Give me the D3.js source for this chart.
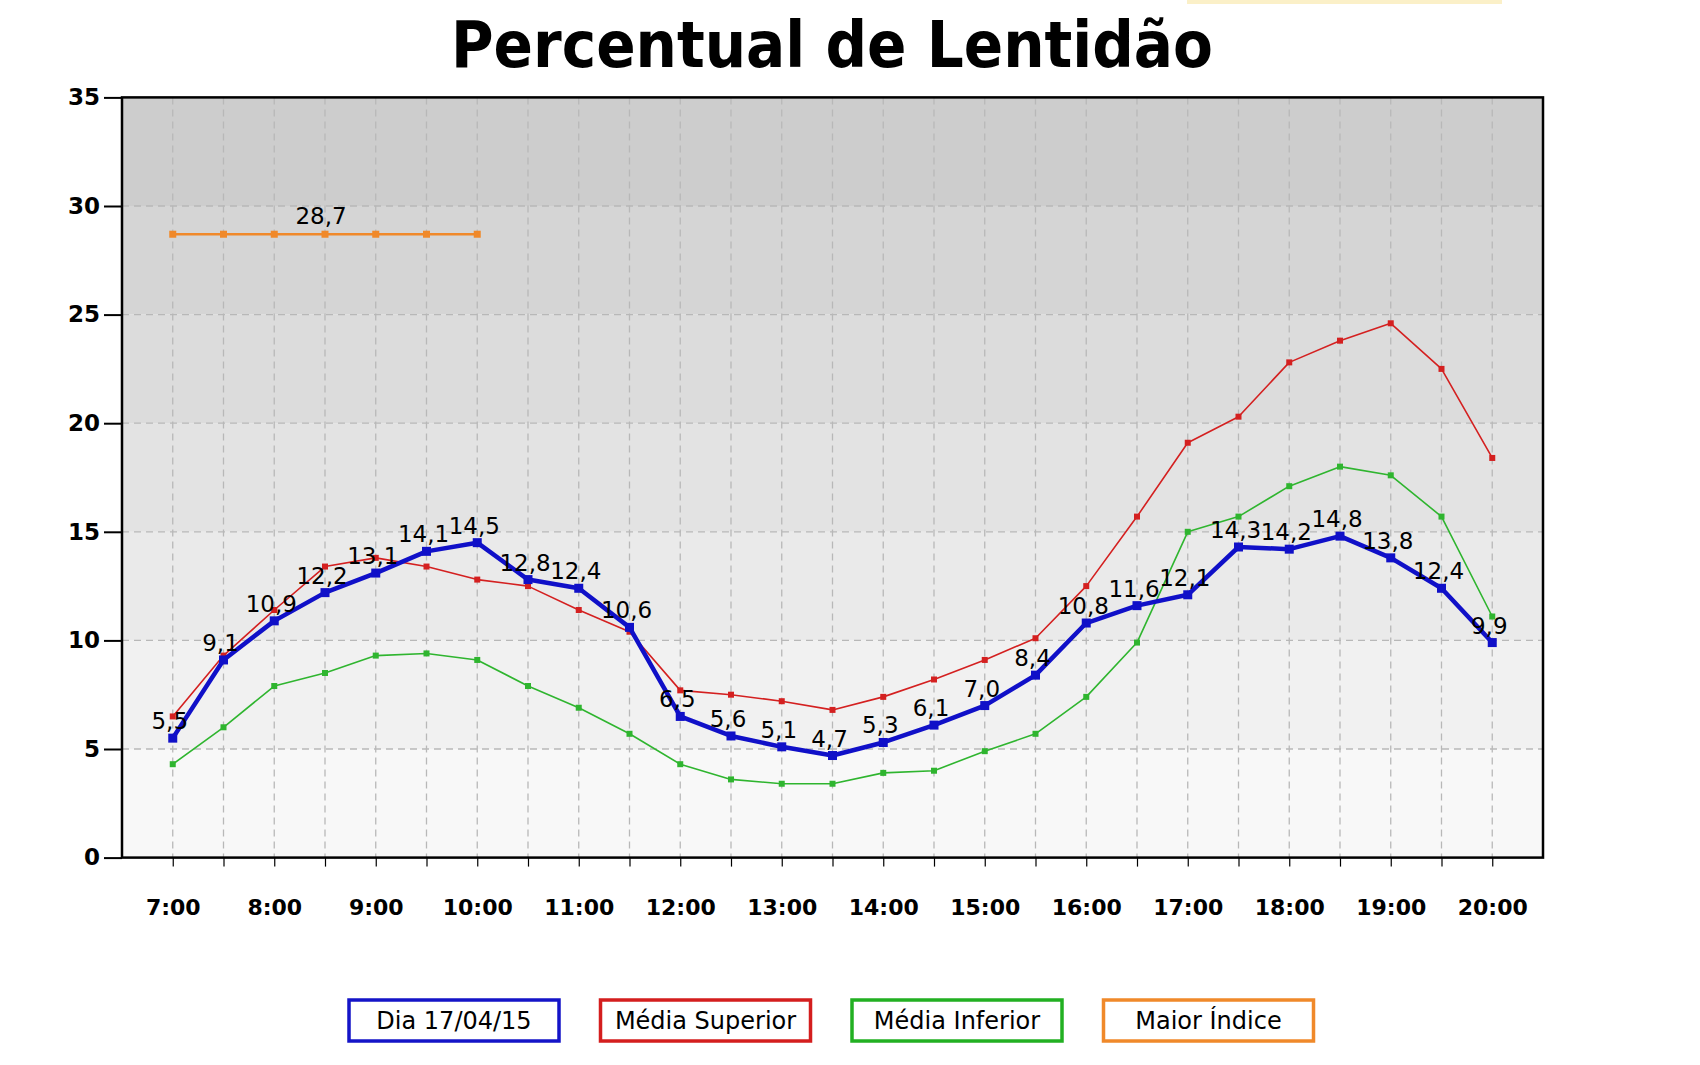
<!DOCTYPE html>
<html><head><meta charset="utf-8">
<script src="https://cdn.jsdelivr.net/npm/d3@7"></script>
<style>html,body{margin:0;padding:0;background:#fff;}svg{display:block;}</style>
</head><body>
<svg id="chart" width="1700" height="1065"></svg>
<script>
const times = ["7:00","7:30","8:00","8:30","9:00","9:30","10:00","10:30","11:00","11:30","12:00","12:30","13:00","13:30","14:00","14:30","15:00","15:30","16:00","16:30","17:00","17:30","18:00","18:30","19:00","19:30","20:00"];
const hourLabels = ["7:00","8:00","9:00","10:00","11:00","12:00","13:00","14:00","15:00","16:00","17:00","18:00","19:00","20:00"];
const yTicks = [0,5,10,15,20,25,30,35];
const dia = [5.5,9.1,10.9,12.2,13.1,14.1,14.5,12.8,12.4,10.6,6.5,5.6,5.1,4.7,5.3,6.1,7.0,8.4,10.8,11.6,12.1,14.3,14.2,14.8,13.8,12.4,9.9];
const mediaSuperior = [6.5,9.3,11.4,13.4,13.8,13.4,12.8,12.5,11.4,10.4,7.7,7.5,7.2,6.8,7.4,8.2,9.1,10.1,12.5,15.7,19.1,20.3,22.8,23.8,24.6,22.5,18.4];
const mediaInferior = [4.3,6.0,7.9,8.5,9.3,9.4,9.1,7.9,6.9,5.7,4.3,3.6,3.4,3.4,3.9,4.0,4.9,5.7,7.4,9.9,15.0,15.7,17.1,18.0,17.6,15.7,11.1];
const maiorIndiceTimes = ["7:00","7:30","8:00","8:30","9:00","9:30","10:00"];
const maiorIndice = [28.7,28.7,28.7,28.7,28.7,28.7,28.7];
const maiorIndiceLabelAt = "8:30";
const legendNames = ["Dia 17/04/15","Média Superior","Média Inferior","Maior Índice"];
const legendColors = ["#1414c8","#d41e1e","#22b022","#f0892a"];

const svg = d3.select("#chart");
const L = 122, R = 1543, T = 97.4, B = 857.6;
const x = d3.scalePoint().domain(times).range([L, R]).padding(1);
const y = d3.scaleLinear().domain([0,35]).range([B, T]);
const fmt = v => d3.format(".1f")(v).replace(".", ",");

// faint artifact at top
svg.append("rect").attr("x",1187).attr("y",0).attr("width",315).attr("height",4).attr("fill","#fbf0c8");

// title
svg.append("text").attr("x", 832).attr("y", 67).attr("text-anchor","middle")
  .attr("font-family","DejaVu Sans").attr("font-weight","bold").attr("font-size",64)
  .attr("textLength",762).attr("lengthAdjust","spacingAndGlyphs").attr("fill","#000")
  .text("Percentual de Lentidão");

// background bands
const bandColors = ["#f8f8f8","#f1f1f1","#eaeaea","#e3e3e3","#dcdcdc","#d5d5d5","#cdcdcd"];
for (let i = 0; i < 7; i++) {
  svg.append("rect").attr("x", L).attr("y", y((i+1)*5)).attr("width", R-L)
    .attr("height", y(i*5) - y((i+1)*5)).attr("fill", bandColors[i]);
}

// grid
const g = svg.append("g");
g.selectAll("line.h").data(yTicks.filter(t => t > 0 && t < 35)).enter().append("line")
  .attr("x1", L).attr("x2", R).attr("y1", d => y(d)).attr("y2", d => y(d))
  .attr("stroke","#b8b8b8").attr("stroke-width",1.3).attr("stroke-dasharray","7,5");
g.selectAll("line.v").data(times).enter().append("line")
  .attr("x1", d => x(d)).attr("x2", d => x(d)).attr("y1", T).attr("y2", B)
  .attr("stroke","#b8b8b8").attr("stroke-width",1.3).attr("stroke-dasharray","7,5");

// axes
const yAxis = d3.axisLeft(y).tickValues(yTicks).tickSize(18).tickPadding(4).tickFormat(d3.format("d"));
const ya = svg.append("g").attr("transform", `translate(${L},0)`).call(yAxis);
ya.select(".domain").remove();
ya.selectAll("line").attr("stroke","#000").attr("stroke-width",2);
ya.selectAll("text").attr("font-family","DejaVu Sans").attr("font-weight","bold").attr("font-size",23).attr("fill","#000");

const xAxis = d3.axisBottom(x).tickValues(times).tickSize(9).tickFormat(d => hourLabels.includes(d) ? d : "").tickPadding(33);
const xa = svg.append("g").attr("transform", `translate(0,${B})`).call(xAxis);
xa.select(".domain").remove();
xa.selectAll("line").attr("stroke","#000").attr("stroke-width",1.2);
xa.selectAll("text").attr("font-family","DejaVu Sans").attr("font-weight","bold").attr("font-size",22).attr("fill","#000");

// plot border
svg.append("rect").attr("x", L).attr("y", T).attr("width", R-L).attr("height", B-T)
  .attr("fill","none").attr("stroke","#000").attr("stroke-width",2.5);

function series(data, xs, color, width, msize) {
  const pts = data.map((v,i) => [xs[i], v]);
  const line = d3.line().x(d => x(d[0])).y(d => y(d[1]));
  svg.append("path").datum(pts).attr("d", line).attr("fill","none").attr("stroke",color)
    .attr("stroke-width",width).attr("stroke-linejoin","round");
  svg.append("g").selectAll("rect").data(pts).enter().append("rect")
    .attr("x", d => x(d[0]) - msize/2).attr("y", d => y(d[1]) - msize/2)
    .attr("width", msize).attr("height", msize).attr("fill", color);
}
series(mediaInferior, times, "#2fb52f", 1.6, 6);
series(mediaSuperior, times, "#d42020", 1.6, 6);
series(maiorIndice, maiorIndiceTimes, "#f0892a", 2.6, 7);
series(dia, times, "#1010c8", 4.5, 9);

// labels
const lab = svg.append("g").attr("font-family","DejaVu Sans").attr("font-size",23).attr("fill","#000").attr("text-anchor","middle");
lab.selectAll("text").data(dia.map((v,i)=>[times[i],v])).enter().append("text")
  .attr("x", d => x(d[0]) - 3).attr("y", d => y(d[1]) - 9).text(d => fmt(d[1]));
const oi = maiorIndiceTimes.indexOf(maiorIndiceLabelAt);
lab.append("text").attr("x", x(maiorIndiceLabelAt) - 4).attr("y", y(maiorIndice[oi]) - 10).text(fmt(maiorIndice[oi]));

// legend
const lg = svg.append("g");
legendNames.forEach((n, i) => {
  const bx = 349 + i * 251.5, by = 1000, bw = 210, bh = 41;
  lg.append("rect").attr("x", bx).attr("y", by).attr("width", bw).attr("height", bh)
    .attr("fill","#fff").attr("stroke", legendColors[i]).attr("stroke-width",3.5);
  lg.append("text").attr("x", bx + bw/2).attr("y", by + bh/2 + 8).attr("text-anchor","middle")
    .attr("font-family","DejaVu Sans").attr("font-size",24).attr("fill","#000").text(n);
});
</script>
</body></html>
